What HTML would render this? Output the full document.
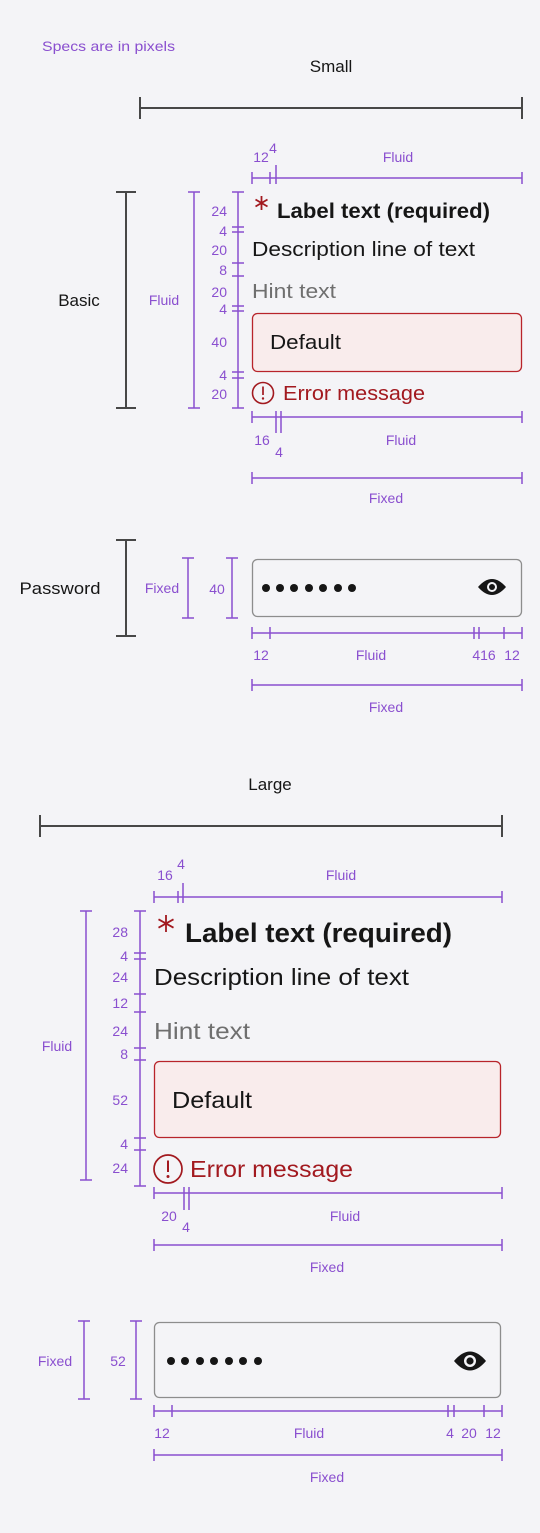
<!DOCTYPE html>
<html><head><meta charset="utf-8"><style>
html,body{margin:0;padding:0;background:#f4f4f7;}
svg{display:block;}
text{font-family:"Liberation Sans",sans-serif;}
.p{fill:#8a4fcf;font-size:14px;}
.pl{stroke:#8a4fcf;stroke-width:1.5;fill:none;}
.bl{stroke:#474747;stroke-width:2;fill:none;}
.d{fill:#161616;}
.r{fill:#a2191f;}
.ast{stroke:#a2191f;stroke-width:1.8;fill:none;}
</style></head><body>
<svg width="540" height="1533" viewBox="0 0 540 1533" xmlns="http://www.w3.org/2000/svg">
<rect width="540" height="1533" fill="#f4f4f7"/>
<text x="42" y="51" class="p" textLength="133" lengthAdjust="spacingAndGlyphs">Specs are in pixels</text>
<text x="331" y="72" class="d" font-size="17" text-anchor="middle">Small</text>
<path class="bl" d="M140 97V119M140 108H522M522 97V119"/>

<path class="pl" d="M252 172V184M252 178H522M270 172V184M276 165V184M522 172V184"/>
<text x="261" y="162" class="p" text-anchor="middle">12</text>
<text x="273" y="153" class="p" text-anchor="middle">4</text>
<text x="398" y="162" class="p" text-anchor="middle">Fluid</text>

<path class="bl" d="M116 192H136M126 192V408M116 408H136"/>
<text x="79" y="306" class="d" font-size="17" text-anchor="middle">Basic</text>
<path class="pl" d="M188 192H200M194 192V408M188 408H200"/>
<text x="164" y="305" class="p" text-anchor="middle">Fluid</text>
<path class="pl" d="M238 192V408M232 192H244M232 227H244M232 232H244M232 263H244M232 276H244M232 306H244M232 311H244M232 372H244M232 378H244M232 408H244"/>
<g class="p" text-anchor="end">
<text x="227" y="216">24</text><text x="227" y="236">4</text><text x="227" y="255">20</text>
<text x="227" y="275">8</text><text x="227" y="297">20</text><text x="227" y="314">4</text>
<text x="227" y="347">40</text><text x="227" y="380">4</text><text x="227" y="399">20</text>
</g>
<path class="ast" d="M261.5 196V210M255.5 199.5L267.5 206.5M255.5 206.5L267.5 199.5"/>
<text x="277" y="218" class="d" font-size="21" font-weight="bold" textLength="213" lengthAdjust="spacingAndGlyphs">Label text (required)</text>
<text x="252" y="256" class="d" font-size="20.5" textLength="223" lengthAdjust="spacingAndGlyphs">Description line of text</text>
<text x="252" y="298" fill="#6f6f6f" font-size="20.5" textLength="84" lengthAdjust="spacingAndGlyphs">Hint text</text>
<rect x="252.5" y="313.5" width="269" height="58" rx="5" fill="#f9ecec" stroke="#b8242a" stroke-width="1.3"/>
<text x="270" y="349" class="d" font-size="20.5" textLength="71" lengthAdjust="spacingAndGlyphs">Default</text>
<circle cx="263" cy="393" r="10.5" fill="none" stroke="#a2191f" stroke-width="1.6"/>
<path d="M263 386.5V395" stroke="#a2191f" stroke-width="1.7"/><circle cx="263" cy="398.5" r="1.2" fill="#a2191f"/>
<text x="283" y="400" class="r" font-size="20.5" textLength="142" lengthAdjust="spacingAndGlyphs">Error message</text>
<path class="pl" d="M252 411V423M252 417H522M276 411V433M281 411V433M522 411V423"/>
<text x="262" y="445" class="p" text-anchor="middle">16</text>
<text x="279" y="457" class="p" text-anchor="middle">4</text>
<text x="401" y="445" class="p" text-anchor="middle">Fluid</text>
<path class="pl" d="M252 472V484M252 478H522M522 472V484"/>
<text x="386" y="503" class="p" text-anchor="middle">Fixed</text>

<path class="bl" d="M116 540H136M126 540V636M116 636H136"/>
<text x="60" y="594" class="d" font-size="17" text-anchor="middle" textLength="81" lengthAdjust="spacingAndGlyphs">Password</text>
<path class="pl" d="M182 558H194M188 558V618M182 618H194"/>
<text x="162" y="593" class="p" text-anchor="middle">Fixed</text>
<path class="pl" d="M226 558H238M232 558V618M226 618H238"/>
<text x="217" y="594" class="p" text-anchor="middle">40</text>
<rect x="252.5" y="559.5" width="269" height="57" rx="5" fill="#f4f4f7" stroke="#8d8d8d" stroke-width="1.3"/>
<g class="d"><circle cx="266" cy="588" r="4"/><circle cx="280" cy="588" r="4"/><circle cx="294" cy="588" r="4"/><circle cx="309" cy="588" r="4"/><circle cx="323" cy="588" r="4"/><circle cx="338" cy="588" r="4"/><circle cx="352" cy="588" r="4"/></g>
<path d="M478 587Q492 571 506 587Q492 603 478 587Z" fill="#161616"/><circle cx="492" cy="587" r="5" fill="#f4f4f7"/><circle cx="492" cy="587" r="3" fill="#161616"/>
<path class="pl" d="M252 627V639M252 633H522M270 627V639M474 627V639M479 627V639M504 627V639M522 627V639"/>
<text x="261" y="660" class="p" text-anchor="middle">12</text>
<text x="371" y="660" class="p" text-anchor="middle">Fluid</text>
<text x="484" y="660" class="p" text-anchor="middle">416</text>
<text x="512" y="660" class="p" text-anchor="middle">12</text>
<path class="pl" d="M252 679V691M252 685H522M522 679V691"/>
<text x="386" y="712" class="p" text-anchor="middle">Fixed</text>

<text x="270" y="790" class="d" font-size="17" text-anchor="middle">Large</text>
<path class="bl" d="M40 815V837M40 826H502M502 815V837"/>
<path class="pl" d="M154 891V903M154 897H502M178 891V903M183 883V903M502 891V903"/>
<text x="165" y="880" class="p" text-anchor="middle">16</text>
<text x="181" y="869" class="p" text-anchor="middle">4</text>
<text x="341" y="880" class="p" text-anchor="middle">Fluid</text>

<path class="pl" d="M80 911H92M86 911V1180M80 1180H92"/>
<text x="57" y="1051" class="p" text-anchor="middle">Fluid</text>
<path class="pl" d="M140 911V1186M134 911H146M134 953H146M134 959H146M134 994H146M134 1012H146M134 1048H146M134 1060H146M134 1138H146M134 1150H146M134 1186H146"/>
<g class="p" text-anchor="end">
<text x="128" y="937">28</text><text x="128" y="961">4</text><text x="128" y="982">24</text>
<text x="128" y="1008">12</text><text x="128" y="1036">24</text><text x="128" y="1059">8</text>
<text x="128" y="1105">52</text><text x="128" y="1149">4</text><text x="128" y="1173">24</text>
</g>
<path class="ast" stroke-width="2.2" d="M166 915V932M158.5 919.3L173.5 927.7M158.5 927.7L173.5 919.3"/>
<text x="185" y="942" class="d" font-size="27" font-weight="bold" textLength="267" lengthAdjust="spacingAndGlyphs">Label text (required)</text>
<text x="154" y="985" class="d" font-size="23.5" textLength="255" lengthAdjust="spacingAndGlyphs">Description line of text</text>
<text x="154" y="1039" fill="#6f6f6f" font-size="23.5" textLength="96" lengthAdjust="spacingAndGlyphs">Hint text</text>
<rect x="154.5" y="1061.5" width="346" height="76" rx="5" fill="#f9ecec" stroke="#b8242a" stroke-width="1.3"/>
<text x="172" y="1108" class="d" font-size="23.5" textLength="80" lengthAdjust="spacingAndGlyphs">Default</text>
<circle cx="168" cy="1169" r="14" fill="none" stroke="#a2191f" stroke-width="1.7"/>
<path d="M168 1160.5V1172" stroke="#a2191f" stroke-width="2"/><circle cx="168" cy="1176.5" r="1.5" fill="#a2191f"/>
<text x="190" y="1177" class="r" font-size="23.5" textLength="163" lengthAdjust="spacingAndGlyphs">Error message</text>
<path class="pl" d="M154 1187V1199M154 1193H502M184 1187V1210M189 1187V1210M502 1187V1199"/>
<text x="169" y="1221" class="p" text-anchor="middle">20</text>
<text x="186" y="1232" class="p" text-anchor="middle">4</text>
<text x="345" y="1221" class="p" text-anchor="middle">Fluid</text>
<path class="pl" d="M154 1239V1251M154 1245H502M502 1239V1251"/>
<text x="327" y="1272" class="p" text-anchor="middle">Fixed</text>

<path class="pl" d="M78 1321H90M84 1321V1399M78 1399H90"/>
<text x="55" y="1366" class="p" text-anchor="middle">Fixed</text>
<path class="pl" d="M130 1321H142M136 1321V1399M130 1399H142"/>
<text x="118" y="1366" class="p" text-anchor="middle">52</text>
<rect x="154.5" y="1322.5" width="346" height="75" rx="5" fill="#f4f4f7" stroke="#8d8d8d" stroke-width="1.3"/>
<g class="d"><circle cx="171" cy="1361" r="4"/><circle cx="185" cy="1361" r="4"/><circle cx="200" cy="1361" r="4"/><circle cx="214" cy="1361" r="4"/><circle cx="229" cy="1361" r="4"/><circle cx="243" cy="1361" r="4"/><circle cx="258" cy="1361" r="4"/></g>
<path d="M454 1361Q470 1342 486 1361Q470 1380 454 1361Z" fill="#161616"/><circle cx="470" cy="1361" r="6" fill="#f4f4f7"/><circle cx="470" cy="1361" r="3.6" fill="#161616"/>
<path class="pl" d="M154 1405V1417M154 1411H502M172 1405V1417M448 1405V1417M454 1405V1417M484 1405V1417M502 1405V1417"/>
<text x="162" y="1438" class="p" text-anchor="middle">12</text>
<text x="309" y="1438" class="p" text-anchor="middle">Fluid</text>
<text x="450" y="1438" class="p" text-anchor="middle">4</text>
<text x="469" y="1438" class="p" text-anchor="middle">20</text>
<text x="493" y="1438" class="p" text-anchor="middle">12</text>
<path class="pl" d="M154 1449V1461M154 1455H502M502 1449V1461"/>
<text x="327" y="1482" class="p" text-anchor="middle">Fixed</text>
</svg>
</body></html>
